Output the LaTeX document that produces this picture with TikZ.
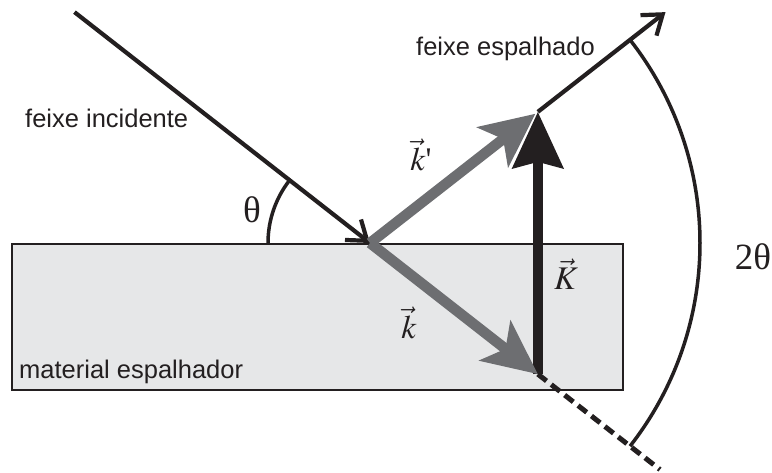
\documentclass[tikz,border=0pt]{standalone}
\usepackage{mathptmx}
\usepackage{fontspec}
\setmainfont{Liberation Sans}
\newfontfamily\serifplain{Liberation Serif}
\usetikzlibrary{arrows.meta,calc}
\definecolor{ink}{HTML}{231F20}
\definecolor{vecgray}{HTML}{6D6E71}
\definecolor{matfill}{HTML}{E6E7E8}
\tikzset{
  beam/.style={ink, line width=4.2pt},
  openhead/.style={-{Straight Barb[length=18pt,width=26pt,line width=4.2pt]}},
  grayvec/.style={vecgray, line width=10.5pt, -{Stealth[length=54pt,width=50pt,inset=13pt]}},
  blackvec/.style={ink, line width=10pt, -{Stealth[length=56pt,width=50pt,inset=6pt]}},
  anglearc/.style={ink, line width=3.5pt},
  lbl/.style={font=\fontsize{25.5}{30}\selectfont, text=ink, inner sep=0pt},
  mlbl/.style={font=\fontsize{33}{36}\selectfont, text=ink, inner sep=0pt},
  glbl/.style={font=\serifplain\fontsize{37}{40}\selectfont, text=ink, inner sep=0pt},
}
\begin{document}
\begin{tikzpicture}[x=1pt,y=1pt]
\useasboundingbox (0,0) rectangle (772,472);
% geometry
\coordinate (O) at (370,229);
\coordinate (kt) at ($(O)+(-38:213)$);
\coordinate (kpt) at ($(O)+(38:213)$);
\coordinate (inc) at ($(O)+(142:375)$);
\coordinate (scat) at ($(O)+(38:375)$);
\coordinate (dashend) at ($(O)+(-38:368)$);
\coordinate (r1) at (12,82);
\coordinate (r2) at (623,228);
% material
\draw[fill=matfill, draw=ink, line width=1.6pt] (r1) rectangle (r2);
% incident beam
\draw[beam, openhead] (inc) -- (O);
% theta arc
\draw[anglearc] ([shift={(180:102)}]O) arc[start angle=180, end angle=142, radius=102];
% dashed continuation
\draw[ink, line width=5pt, dash pattern=on 11pt off 6pt] (kt) -- (dashend);
% scattered beam
\draw[beam, openhead] (kpt) -- (scat);
% 2theta arc
\draw[anglearc] ([shift={(38:330)}]O) arc[start angle=38, end angle=-38, radius=330];
% K vector
\draw[blackvec] (kt) -- (kpt);
% k and k' vectors
\draw[grayvec] (O) -- ($(kpt)!3pt!(O)$);
\draw[grayvec] (O) -- (kt);
% labels
\node[lbl, anchor=base west] (linc) at (25,344) {feixe incidente};
\node[lbl, anchor=base west] (lsc) at (416,416) {feixe espalhado};
\node[lbl, anchor=base west] (lmat) at (19,94) {material espalhador};
\node[glbl] (lth) at (252,262) {θ};
\node[glbl] (l2th) at (753,215) {2θ};
\node[mlbl] (lkp) at (421,317) {$\vec{k}${\serifplain '}};
\node[mlbl] (lk) at (409,149) {$\vec{k}$};
\node[mlbl] (lK) at (566,198) {$\vec{K}$};
\end{tikzpicture}
\end{document}
